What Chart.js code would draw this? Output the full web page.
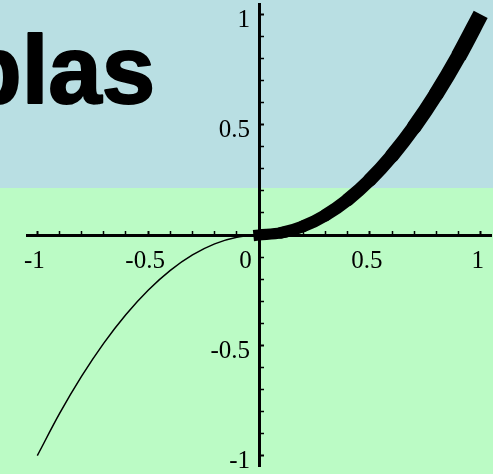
<!DOCTYPE html>
<html>
<head>
<meta charset="utf-8">
<script src="https://cdn.jsdelivr.net/npm/chart.js@4/dist/chart.umd.min.js"></script>
<style>
  html, body { margin: 0; padding: 0; background: #bbfbc5; }
  #wrap { width: 493px; height: 474px; position: relative; }
  canvas { display: block; }
</style>
</head>
<body>
<div id="wrap"><canvas id="c" width="493" height="474"></canvas></div>
<script>
// ---- data ----
const leftX  = [-1, -0.9, -0.8, -0.7, -0.6, -0.5, -0.4, -0.3, -0.2, -0.1, 0];
const leftY  = [-1, -0.81, -0.64, -0.49, -0.36, -0.25, -0.16, -0.09, -0.04, -0.01, 0];
const rightX = [0, 0.1, 0.2, 0.3, 0.4, 0.5, 0.6, 0.7, 0.8, 0.9, 1];
const rightY = [0, 0.01, 0.04, 0.09, 0.16, 0.25, 0.36, 0.49, 0.64, 0.81, 1];

const xTicks = [-1, -0.9, -0.8, -0.7, -0.6, -0.5, -0.4, -0.3, -0.2, -0.1, 0, 0.1, 0.2, 0.3, 0.4, 0.5, 0.6, 0.7, 0.8, 0.9, 1];
const yTicks = [-1, -0.9, -0.8, -0.7, -0.6, -0.5, -0.4, -0.3, -0.2, -0.1, 0, 0.1, 0.2, 0.3, 0.4, 0.5, 0.6, 0.7, 0.8, 0.9, 1];
const xMajor = [-1, -0.5, 0.5, 1];
const xMajorLabels = ['-1', '-0.5', '0.5', '1'];
const yMajor = [-1, -0.5, 0.5, 1];
const yMajorLabels = ['-1', '-0.5', '0.5', '1'];
const originTick = [0];
const originLabel = ['0'];
const titleText = 'blas';

// ---- chart ----
const tickFont = { family: '"Liberation Serif", "Times New Roman", serif', size: 25 };

const slideBackground = {
  id: 'slideBackground',
  beforeDraw(chart) {
    const ctx = chart.ctx;
    ctx.save();
    ctx.fillStyle = '#bbfbc5';
    ctx.fillRect(0, 0, chart.width, chart.height);
    ctx.fillStyle = '#b9dfe3';
    ctx.fillRect(0, 0, chart.width, 188);
    ctx.fillStyle = '#000';
    ctx.strokeStyle = '#000';
    ctx.lineWidth = 2;
    ctx.lineJoin = 'round';
    ctx.font = 'bold 96px "Liberation Sans", Arial, sans-serif';
    ctx.textBaseline = 'alphabetic';
    ctx.textAlign = 'left';
    ctx.fillText(titleText, -37, 102.5);
    ctx.strokeText(titleText, -37, 102.5);
    ctx.restore();
  }
};

function zeroPad(s) { s.paddingLeft = 0; s.paddingRight = 0; s.paddingTop = 0; s.paddingBottom = 0; }

const lastRight = rightX.length - 1;

new Chart(document.getElementById('c'), {
  type: 'scatter',
  data: {
    datasets: [
      {
        data: leftX.map((x, i) => ({ x, y: leftY[i] })),
        showLine: true, borderColor: '#000', borderWidth: 1.5,
        pointRadius: 0, cubicInterpolationMode: 'monotone', fill: false
      },
      {
        data: rightX.map((x, i) => ({ x, y: rightY[i] })),
        showLine: true, borderColor: '#000', borderWidth: 13, borderCapStyle: 'butt',
        pointRadius: 0, cubicInterpolationMode: 'monotone', fill: false,
        segment: {
          borderWidth: c => 11 + 5 * ((c.p0.parsed.x + c.p1.parsed.x) / 2),
          borderCapStyle: c => (c.p0DataIndex === 0 ? 'square' : (c.p1DataIndex === lastRight ? 'butt' : 'round'))
        }
      }
    ]
  },
  options: {
    responsive: false,
    animation: false,
    devicePixelRatio: 1,
    layout: { autoPadding: false, padding: { left: 27, right: 2, top: 4, bottom: 8 } },
    plugins: { legend: { display: false }, tooltip: { enabled: false }, title: { display: false } },
    scales: {
      x: {
        type: 'linear', position: 'center', min: -1.0465, max: 1.0465, bounds: 'data',
        afterBuildTicks: a => { a.ticks = xTicks.map(v => ({ value: v })); },
        afterFit: zeroPad,
        border: { display: true, color: '#000', width: 3 },
        grid: {
          drawOnChartArea: false, drawTicks: true, tickLength: -6, tickColor: '#000',
          tickWidth: c => (xMajor.indexOf(c.tick && c.tick.value) >= 0 ? 2 : 1.5)
        },
        ticks: {
          autoSkip: false, maxRotation: 0, minRotation: 0, padding: 17, labelOffset: -3,
          color: '#000', font: tickFont,
          callback: v => { const i = xMajor.indexOf(v); return i >= 0 ? xMajorLabels[i] : ''; }
        }
      },
      x0: {
        type: 'linear', axis: 'x', position: 'center', min: -1.0465, max: 1.0465, bounds: 'data',
        afterBuildTicks: a => { a.ticks = originTick.map(v => ({ value: v })); },
        afterFit: zeroPad,
        border: { display: false },
        grid: { display: false, drawTicks: false },
        ticks: {
          autoSkip: false, maxRotation: 0, minRotation: 0, padding: 11, labelOffset: -13.5,
          color: '#000', font: tickFont,
          callback: v => { const i = originTick.indexOf(v); return i >= 0 ? originLabel[i] : ''; }
        }
      },
      y: {
        type: 'linear', position: 'center', min: -1.047, max: 1.047, bounds: 'data',
        afterBuildTicks: a => { a.ticks = yTicks.map(v => ({ value: v })); },
        afterFit: zeroPad,
        border: { display: true, color: '#000', width: 3 },
        grid: {
          drawOnChartArea: false, drawTicks: true, tickLength: -6, tickColor: '#000',
          tickWidth: c => (yMajor.indexOf(c.tick && c.tick.value) >= 0 ? 2 : 1.5)
        },
        ticks: {
          autoSkip: false, padding: 15, labelOffset: 6,
          color: '#000', font: tickFont,
          callback: v => { const i = yMajor.indexOf(v); return i >= 0 ? yMajorLabels[i] : ''; }
        }
      }
    }
  },
  plugins: [slideBackground]
});
</script>
</body>
</html>
